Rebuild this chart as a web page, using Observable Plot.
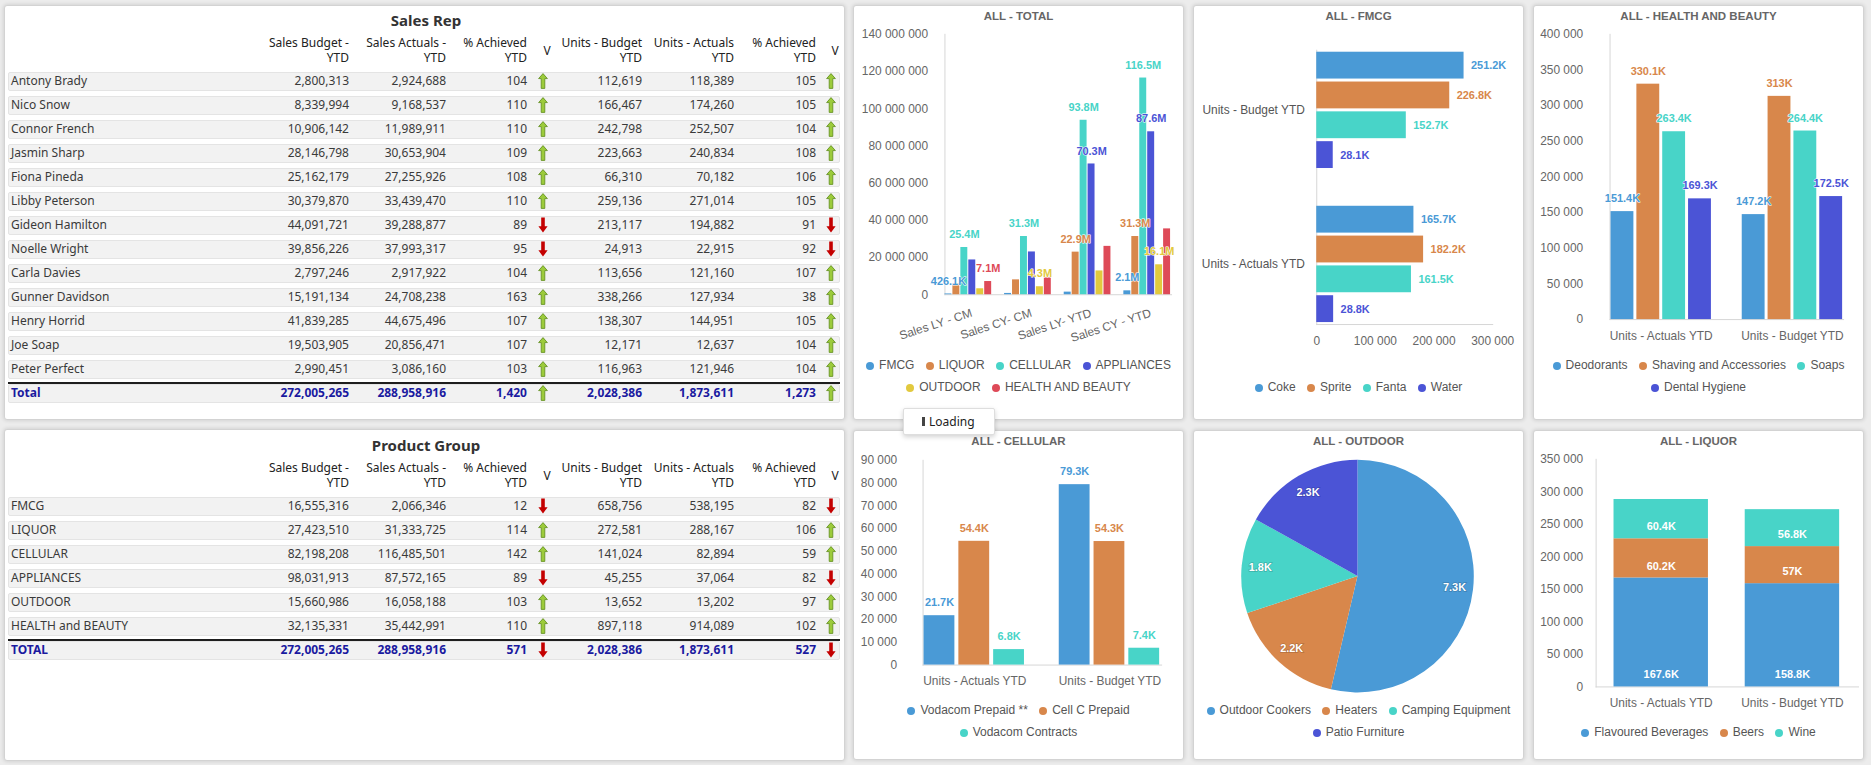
<!DOCTYPE html>
<html>
<head>
<meta charset="utf-8">
<title>Sales dashboard</title>
<script src="https://cdn.jsdelivr.net/npm/d3@7"></script>
<script src="https://cdn.jsdelivr.net/npm/@observablehq/plot@0.6"></script>
<style>
  html, body { margin: 0; padding: 0; }
  body { position: relative; width: 1871px; height: 765px; overflow: hidden; background: #ececec;
         font-family: "Liberation Sans", Arial, sans-serif; }
  .panel { position: absolute; box-sizing: border-box; background: #fff; border: 1px solid #d3d3d3;
           border-radius: 3px; box-shadow: 0 0 4px rgba(0,0,0,0.16); }
  .chart-title { position: absolute; left: 0; right: 0; top: 4px; text-align: center; line-height: 15px;
                 font: bold 11.5px "Liberation Sans", Arial, sans-serif; color: #666; }
  .chart-svg { position: absolute; left: -1px; top: -1px; }
  .legend { position: absolute; left: 4px; right: 4px; text-align: center; font-size: 12px; color: #555; line-height: 22px; }
  .legend-item { display: inline-block; margin: 0 4px; white-space: nowrap; }
  .legend-dot { display: inline-block; width: 8px; height: 8px; border-radius: 50%; margin-right: 5px; vertical-align: -0.5px; }
  .tcell { position: absolute; white-space: nowrap; font: 12px "Noto Sans", "Open Sans", sans-serif; color: #3a3a3a; line-height: 16px; }
  .thead { color: #222; }
  .ttitle { position: absolute; white-space: nowrap; font: bold 15px "Noto Sans", "Open Sans", sans-serif; color: #333; line-height: 20px; }
  .trow { position: absolute; box-sizing: border-box; background: #f2f2f2; border: 1px solid #e4e4e4; border-radius: 2px; }
  .ttotal { font-weight: bold; color: #1a1aa0; }
  .tline { position: absolute; height: 2px; background: #1e1e1e; }
  .arrow { position: absolute; }
  #loading { position: absolute; left: 903px; top: 408px; width: 92px; height: 27px; box-sizing: border-box;
             background: #fff; border: 1px solid #dedede; border-radius: 2px; box-shadow: 0 2px 5px rgba(0,0,0,0.18);
             font: 12px "Noto Sans", "Open Sans", sans-serif; color: #222; z-index: 10; }
  #loading .bar { position: absolute; left: 18px; top: 8px; width: 3px; height: 9px; background: #444; }
  #loading .txt { position: absolute; left: 25px; top: 4px; line-height: 17px; }
</style>
</head>
<body>
<div id="loading"><span class="bar"></span><span class="txt">Loading</span></div>
<script>
// ---------------- Sales Rep table ----------------
const repNames = ["Antony Brady", "Nico Snow", "Connor French", "Jasmin Sharp", "Fiona Pineda", "Libby Peterson",
  "Gideon Hamilton", "Noelle Wright", "Carla Davies", "Gunner Davidson", "Henry Horrid", "Joe Soap", "Peter Perfect"];
const repSalesBudget = [2800313, 8339994, 10906142, 28146798, 25162179, 30379870, 44091721, 39856226, 2797246, 15191134, 41839285, 19503905, 2990451];
const repSalesActual = [2924688, 9168537, 11989911, 30653904, 27255926, 33439470, 39288877, 37993317, 2917922, 24708238, 44675496, 20856471, 3086160];
const repSalesPct = [104, 110, 110, 109, 108, 110, 89, 95, 104, 163, 107, 107, 103];
const repSalesTrend = ["up", "up", "up", "up", "up", "up", "down", "down", "up", "up", "up", "up", "up"];
const repUnitsBudget = [112619, 166467, 242798, 223663, 66310, 259136, 213117, 24913, 113656, 338266, 138307, 12171, 116963];
const repUnitsActual = [118389, 174260, 252507, 240834, 70182, 271014, 194882, 22915, 121160, 127934, 144951, 12637, 121946];
const repUnitsPct = [105, 105, 104, 108, 106, 105, 91, 92, 107, 38, 105, 104, 104];
const repUnitsTrend = ["up", "up", "up", "up", "up", "up", "down", "down", "up", "up", "up", "up", "up"];
const repTotals = [272005265, 288958916, 1420, 2028386, 1873611, 1273];
const repTotalTrend = ["up", "up"];

// ---------------- Product Group table ----------------
const groupNames = ["FMCG", "LIQUOR", "CELLULAR", "APPLIANCES", "OUTDOOR", "HEALTH and BEAUTY"];
const groupSalesBudget = [16555316, 27423510, 82198208, 98031913, 15660986, 32135331];
const groupSalesActual = [2066346, 31333725, 116485501, 87572165, 16058188, 35442991];
const groupSalesPct = [12, 114, 142, 89, 103, 110];
const groupSalesTrend = ["down", "up", "up", "down", "up", "up"];
const groupUnitsBudget = [658756, 272581, 141024, 45255, 13652, 897118];
const groupUnitsActual = [538195, 288167, 82894, 37064, 13202, 914089];
const groupUnitsPct = [82, 106, 59, 82, 97, 102];
const groupUnitsTrend = ["down", "up", "up", "down", "up", "up"];
const groupTotals = [272005265, 288958916, 571, 2028386, 1873611, 527];
const groupTotalTrend = ["down", "down"];

const tableHeaders = [["Sales Budget -", "YTD"], ["Sales Actuals -", "YTD"], ["% Achieved", "YTD"],
                      ["Units - Budget", "YTD"], ["Units - Actuals", "YTD"], ["% Achieved", "YTD"]];

// ---------------- ALL - TOTAL ----------------
const periods = ["Sales LY - CM", "Sales CY- CM", "Sales LY- YTD", "Sales CY - YTD"];
const productGroups = ["FMCG", "LIQUOR", "CELLULAR", "APPLIANCES", "OUTDOOR", "HEALTH AND BEAUTY"];
const fmcgSales = [426100, 700000, 1400000, 2100000];
const liquorSales = [5900000, 8000000, 22900000, 31300000];
const cellularSales = [25400000, 31300000, 93800000, 116500000];
const appliancesSales = [18700000, 23000000, 70300000, 87600000];
const outdoorSales = [3200000, 4300000, 12800000, 16100000];
const healthSales = [7100000, 9100000, 26000000, 35400000];
const totalLabelled = ["Sales LY - CM|FMCG", "Sales LY - CM|CELLULAR", "Sales LY - CM|HEALTH AND BEAUTY",
  "Sales CY- CM|CELLULAR", "Sales CY- CM|OUTDOOR",
  "Sales LY- YTD|LIQUOR", "Sales LY- YTD|CELLULAR", "Sales LY- YTD|APPLIANCES",
  "Sales CY - YTD|FMCG", "Sales CY - YTD|LIQUOR", "Sales CY - YTD|CELLULAR", "Sales CY - YTD|APPLIANCES", "Sales CY - YTD|OUTDOOR"];

// ---------------- ALL - FMCG ----------------
const fmcgMeasures = ["Units - Budget YTD", "Units - Actuals YTD"];
const fmcgProducts = ["Coke", "Sprite", "Fanta", "Water"];
const fmcgBudget = [251200, 226800, 152700, 28100];
const fmcgActual = [165700, 182200, 161500, 28800];

// ---------------- ALL - HEALTH AND BEAUTY ----------------
const hbMeasures = ["Units - Actuals YTD", "Units - Budget YTD"];
const hbProducts = ["Deodorants", "Shaving and Accessories", "Soaps", "Dental Hygiene"];
const hbActual = [151400, 330100, 263400, 169300];
const hbBudget = [147200, 313000, 264400, 172500];

// ---------------- ALL - CELLULAR ----------------
const cellMeasures = ["Units - Actuals YTD", "Units - Budget YTD"];
const cellProducts = ["Vodacom Prepaid **", "Cell C Prepaid", "Vodacom Contracts"];
const cellActual = [21700, 54400, 6800];
const cellBudget = [79300, 54300, 7400];

// ---------------- ALL - OUTDOOR ----------------
const outdoorProducts = ["Outdoor Cookers", "Heaters", "Camping Equipment", "Patio Furniture"];
const outdoorUnits = [7300, 2200, 1800, 2300];

// ---------------- ALL - LIQUOR ----------------
const liquorMeasures = ["Units - Actuals YTD", "Units - Budget YTD"];
const liquorProducts = ["Flavoured Beverages", "Beers", "Wine"];
const liquorActual = [167600, 60200, 60400];
const liquorBudget = [158800, 57000, 56800];

const palette = ["#4a9ad6", "#d8874b", "#48d4c8", "#4b54d6", "#e2c93e", "#de4a58"];

// ---------------- helpers ----------------
const fmtInt = d3.format(",");
const spaced = d => d3.format(",")(d).replace(/,/g, " ");
const trimZero = s => s.replace(/\.0$/, "");
const fmtShort = v => v >= 1e6 ? trimZero((v / 1e6).toFixed(1)) + "M" : trimZero((v / 1e3).toFixed(1)) + "K";
const axisStroke = "#d6d6d6";
const chartStyle = {fontFamily: '"Liberation Sans", Arial, sans-serif', fontSize: "12px", color: "#666",
                    background: "transparent", overflow: "visible"};

function el(tag, cls, parent, css) {
  const e = document.createElement(tag);
  if (cls) e.className = cls;
  Object.assign(e.style, css || {});
  (parent || document.body).appendChild(e);
  return e;
}

function panel(left, top, width, height) {
  return el("div", "panel", document.body, {left: left + "px", top: top + "px", width: width + "px", height: height + "px"});
}

// ---------------- tables ----------------
const UP_ARROW = '<svg width="10" height="16" viewBox="0 0 10 16"><path d="M5 0.6 L9.4 5.6 L6.8 5.6 L6.8 15.4 L3.2 15.4 L3.2 5.6 L0.6 5.6 Z" fill="#9ccb3b" stroke="#5d8a1c" stroke-width="0.8"/></svg>';
const DOWN_ARROW = '<svg width="10" height="16" viewBox="0 0 10 16"><path d="M3.2 0.5 L6.8 0.5 L6.8 9.2 L9.6 9.2 L5 15.6 L0.4 9.2 L3.2 9.2 Z" fill="#c40000"/></svg>';

const numRight = [349, 446, 527, 642, 734, 816];
const arrowX = [543, 831];
const vHeadX = [547, 835];

function text(str, x, y, align, cls) {
  const e = el("div", "tcell " + (cls || ""));
  e.textContent = str;
  e.style.left = x + "px";
  e.style.top = y + "px";
  e.style.transform = align === "right" ? "translate(-100%, -50%)" : align === "center" ? "translate(-50%, -50%)" : "translate(0, -50%)";
  return e;
}

function arrow(dir, x, y) {
  const e = el("div", "arrow");
  e.innerHTML = dir === "up" ? UP_ARROW : DOWN_ARROW;
  e.style.left = (x - 5) + "px";
  e.style.top = (y - 8) + "px";
  e.style.height = "16px";
}

function drawTable(cfg) {
  const {title, titleY, names, columns, trends, totals, totalTrend, totalLabel} = cfg;
  const t = el("div", "ttitle");
  t.textContent = title;
  t.style.left = "426px"; t.style.top = titleY + "px"; t.style.transform = "translate(-50%, -50%)";
  tableHeaders.forEach((h, i) => {
    text(h[0], numRight[i], titleY + 23, "right", "thead");
    text(h[1], numRight[i], titleY + 38, "right", "thead");
  });
  vHeadX.forEach(x => text("V", x, titleY + 31, "center", "thead"));
  const firstRow = titleY + 61;
  const rowBox = y => el("div", "trow", document.body, {left: "8px", width: "832px", top: (y - 9.5) + "px", height: "19px"});
  names.forEach((name, r) => {
    const y = firstRow + r * 24;
    rowBox(y);
    text(name, 11, y, "left");
    columns.forEach((col, i) => text(i === 2 || i === 5 ? String(col[r]) : fmtInt(col[r]), numRight[i], y, "right"));
    arrow(trends[0][r], arrowX[0], y);
    arrow(trends[1][r], arrowX[1], y);
  });
  const ty = firstRow + names.length * 24;
  rowBox(ty);
  el("div", "tline", document.body, {left: "8px", width: "832px", top: (ty - 11) + "px"});
  text(totalLabel, 11, ty, "left", "ttotal");
  totals.forEach((v, i) => text(fmtInt(v), numRight[i], ty, "right", "ttotal"));
  arrow(totalTrend[0], arrowX[0], ty);
  arrow(totalTrend[1], arrowX[1], ty);
}

panel(4, 5, 841, 415);
panel(4, 429, 841, 332);
drawTable({title: "Sales Rep", titleY: 20, names: repNames,
  columns: [repSalesBudget, repSalesActual, repSalesPct, repUnitsBudget, repUnitsActual, repUnitsPct],
  trends: [repSalesTrend, repUnitsTrend], totals: repTotals, totalTrend: repTotalTrend, totalLabel: "Total"});
drawTable({title: "Product Group", titleY: 445, names: groupNames,
  columns: [groupSalesBudget, groupSalesActual, groupSalesPct, groupUnitsBudget, groupUnitsActual, groupUnitsPct],
  trends: [groupSalesTrend, groupUnitsTrend], totals: groupTotals, totalTrend: groupTotalTrend, totalLabel: "TOTAL"});

// ---------------- chart panels ----------------
function chartPanel(left, top, height, title, svg, legendItems, legendBottom) {
  const p = panel(left, top, 331, height);
  el("div", "chart-title", p).textContent = title;
  svg.classList.add("chart-svg");
  p.appendChild(svg);
  const lg = el("div", "legend", p, {bottom: legendBottom + "px"});
  legendItems.forEach((name, i) => {
    const item = el("span", "legend-item", lg);
    el("span", "legend-dot", item, {background: palette[i]});
    item.appendChild(document.createTextNode(name));
    lg.appendChild(document.createTextNode(" "));
  });
  return p;
}

// ALL - TOTAL: grouped columns per period
const totalSeries = [fmcgSales, liquorSales, cellularSales, appliancesSales, outdoorSales, healthSales];
const totalData = periods.flatMap((period, i) => productGroups.map((group, j) => ({period, group, value: totalSeries[j][i]})));
const totalChart = Plot.plot({
  width: 331, height: 340, marginLeft: 85, marginRight: 4, marginTop: 29, marginBottom: 49,
  style: chartStyle,
  fx: {domain: periods, paddingInner: 0.2, paddingOuter: 0.1},
  x: {domain: productGroups, paddingInner: 0.08, paddingOuter: 0.04, axis: null},
  y: {domain: [0, 140e6]},
  color: {domain: productGroups, range: palette},
  marks: [
    Plot.frame({facet: "super", anchor: "left", stroke: axisStroke}),
    Plot.frame({facet: "super", anchor: "bottom", stroke: axisStroke}),
    Plot.barY(totalData, {fx: "period", x: "group", y: "value", fill: "group"}),
    Plot.text(totalData.filter(d => totalLabelled.includes(d.period + "|" + d.group)),
      {fx: "period", x: "group", y: "value", text: d => fmtShort(d.value), fill: "group", dy: -13,
       fontSize: 11, fontWeight: "bold", stroke: "white", strokeWidth: 1}),
    Plot.axisY(d3.range(0, 140e6 + 1, 20e6), {tickFormat: spaced, tickSize: 0, tickPadding: 17, label: null}),
    Plot.axisFx({anchor: "bottom", tickRotate: -18, tickSize: 0, tickPadding: 18, textAnchor: "end", lineAnchor: "middle", dx: 3, label: null})
  ]
});
chartPanel(853, 5, 415, "ALL - TOTAL", totalChart, productGroups, 21);

// ALL - FMCG: horizontal grouped bars
const fmcgData = fmcgMeasures.flatMap((measure, i) => fmcgProducts.map((product, j) => ({measure, product, value: [fmcgBudget, fmcgActual][i][j]})));
const fmcgChart = Plot.plot({
  width: 331, height: 370, marginLeft: 124, marginRight: 30, marginTop: 28, marginBottom: 32,
  style: chartStyle,
  fy: {domain: fmcgMeasures, paddingInner: 0.22, paddingOuter: 0.11},
  y: {domain: fmcgProducts, paddingInner: 0.11, paddingOuter: 0.05, axis: null},
  x: {domain: [0, 300000]},
  color: {domain: fmcgProducts, range: palette.slice(0, 4)},
  marks: [
    Plot.frame({facet: "super", anchor: "left", stroke: axisStroke}),
    Plot.frame({facet: "super", anchor: "bottom", stroke: axisStroke}),
    Plot.barX(fmcgData, {fy: "measure", y: "product", x: "value", fill: "product"}),
    Plot.text(fmcgData, {fy: "measure", y: "product", x: "value", text: d => fmtShort(d.value), fill: "product",
      textAnchor: "start", dx: 7, fontSize: 11, fontWeight: "bold"}),
    Plot.axisX([0, 100000, 200000, 300000], {tickFormat: spaced, tickSize: 0, tickPadding: 12, label: null}),
    Plot.axisFy({anchor: "left", tickSize: 0, tickPadding: 12, label: null, fill: "#555"})
  ]
});
chartPanel(1193, 5, 415, "ALL - FMCG", fmcgChart, fmcgProducts, 21);

// grouped vertical columns with value labels above
function groupedColumns({measures, products, series, yMax, yStep, height, margins, fxPad, xPad, tickPadding}) {
  const data = measures.flatMap((measure, i) => products.map((product, j) => ({measure, product, value: series[i][j]})));
  return Plot.plot({
    width: 331, height, ...margins,
    style: chartStyle,
    fx: {domain: measures, ...fxPad},
    x: {domain: products, ...xPad, axis: null},
    y: {domain: [0, yMax]},
    color: {domain: products, range: palette.slice(0, products.length)},
    marks: [
      Plot.frame({facet: "super", anchor: "left", stroke: axisStroke}),
      Plot.frame({facet: "super", anchor: "bottom", stroke: axisStroke}),
      Plot.barY(data, {fx: "measure", x: "product", y: "value", fill: "product"}),
      Plot.text(data, {fx: "measure", x: "product", y: "value", text: d => fmtShort(d.value), fill: "product",
        dy: -13, fontSize: 11, fontWeight: "bold", stroke: "white", strokeWidth: 1}),
      Plot.axisY(d3.range(0, yMax + 1, yStep), {tickFormat: spaced, tickSize: 0, tickPadding, label: null}),
      Plot.axisFx({anchor: "bottom", tickSize: 0, tickPadding: 12, label: null})
    ]
  });
}

const hbChart = groupedColumns({measures: hbMeasures, products: hbProducts, series: [hbActual, hbBudget],
  yMax: 400000, yStep: 50000, height: 350,
  margins: {marginLeft: 62, marginRight: 4, marginTop: 29, marginBottom: 34},
  fxPad: {paddingInner: 0.22, paddingOuter: 0.11}, xPad: {paddingInner: 0.1, paddingOuter: 0.02}, tickPadding: 27});
chartPanel(1533, 5, 415, "ALL - HEALTH AND BEAUTY", hbChart, hbProducts, 21);

const cellChart = groupedColumns({measures: cellMeasures, products: cellProducts, series: [cellActual, cellBudget],
  yMax: 90000, yStep: 10000, height: 270,
  margins: {marginLeft: 55, marginRight: 6, marginTop: 30, marginBottom: 34},
  fxPad: {paddingInner: 0.235, paddingOuter: 0.11}, xPad: {paddingInner: 0.11, paddingOuter: 0}, tickPadding: 26});
chartPanel(853, 430, 330, "ALL - CELLULAR", cellChart, cellProducts, 16);

// ALL - OUTDOOR: pie drawn by a render function, coloured through a Plot ordinal scale
const outdoorColor = Plot.scale({color: {type: "ordinal", domain: outdoorProducts, range: palette.slice(0, 4)}});
function pieSlices(index, scales, values, dims) {
  const w = dims.width - dims.marginLeft - dims.marginRight;
  const h = dims.height - dims.marginTop - dims.marginBottom;
  const r = Math.min(w, h) / 2;
  const g = d3.create("svg:g")
    .attr("transform", `translate(${dims.marginLeft + w / 2},${dims.marginTop + h / 2})`);
  const arcs = d3.pie().sort(null)(outdoorUnits);
  const arc = d3.arc().innerRadius(0).outerRadius(r);
  const labelArc = d3.arc().innerRadius(r * 0.84).outerRadius(r * 0.84);
  g.selectAll("path").data(arcs).join("path")
    .attr("d", arc)
    .attr("fill", (d, i) => outdoorColor.apply(outdoorProducts[i]));
  g.selectAll("text").data(arcs).join("text")
    .attr("transform", d => `translate(${labelArc.centroid(d)})`)
    .attr("text-anchor", "middle").attr("dy", "0.35em")
    .attr("fill", "white").attr("font-size", 11).attr("font-weight", "bold")
    .attr("stroke", "rgba(0,0,0,0.18)").attr("stroke-width", 1.5).attr("paint-order", "stroke")
    .text(d => fmtShort(d.data));
  return g.node();
}
const outdoorChart = Plot.plot({
  width: 331, height: 294, marginLeft: 48.5, marginRight: 48.5, marginTop: 30, marginBottom: 30,
  style: chartStyle,
  marks: [pieSlices]
});
chartPanel(1193, 430, 330, "ALL - OUTDOOR", outdoorChart, outdoorProducts, 16);

// ALL - LIQUOR: stacked columns, labels at the foot of each segment
const liquorData = liquorMeasures.flatMap((measure, i) => liquorProducts.map((product, j) => ({measure, product, value: [liquorActual, liquorBudget][i][j]})));
const liquorChart = Plot.plot({
  width: 331, height: 290, marginLeft: 63, marginRight: 4, marginTop: 29, marginBottom: 32,
  style: chartStyle,
  x: {domain: liquorMeasures, paddingInner: 0.28, paddingOuter: 0.14},
  y: {domain: [0, 350000]},
  color: {domain: liquorProducts, range: palette.slice(0, 3)},
  marks: [
    Plot.frame({anchor: "left", stroke: axisStroke}),
    Plot.frame({anchor: "bottom", stroke: axisStroke}),
    Plot.barY(liquorData, {x: "measure", y: "value", fill: "product"}),
    Plot.text(liquorData, Plot.stackY1({x: "measure", y: "value", text: d => fmtShort(d.value), fill: "white",
      dy: -12, fontSize: 11, fontWeight: "bold"})),
    Plot.axisY(d3.range(0, 350001, 50000), {tickFormat: spaced, tickSize: 0, tickPadding: 13, label: null}),
    Plot.axisX({tickSize: 0, tickPadding: 12, label: null})
  ]
});
chartPanel(1533, 430, 330, "ALL - LIQUOR", liquorChart, liquorProducts, 16);
</script>
</body>
</html>
